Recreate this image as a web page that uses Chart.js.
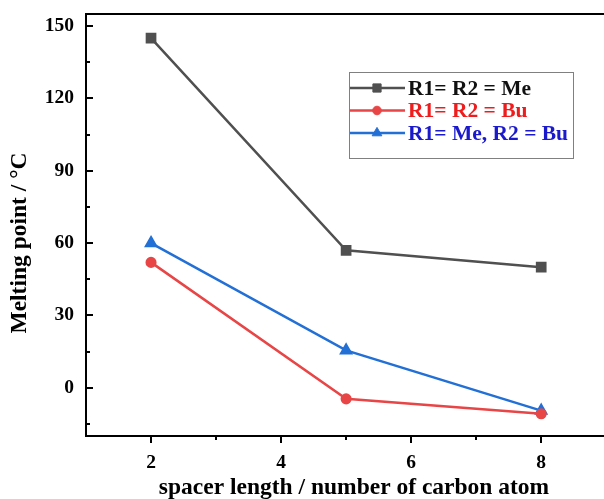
<!DOCTYPE html>
<html lang="en">
<head>
    <meta charset="UTF-8">
    <title>Melting point vs spacer length</title>
    <script src="https://cdn.jsdelivr.net/npm/chart.js"></script>
    <style>
        html, body {
            margin: 0;
            padding: 0;
            background: #fff;
            overflow: hidden;
        }
        .chart-box {
            position: relative;
            width: 604px;
            height: 499px;
        }
    </style>
</head>
<body>
    <div class="chart-box">
        <canvas id="mpChart" width="604" height="499"></canvas>
    </div>

    <script>
        // data
        const spacerLength = [2, 5, 8];
        const meMe = [145, 57, 50];
        const buBu = [52, -4.6, -10.8];
        const meBu = [60, 15.5, -9.5];

        const seriesLabels = ['R1= R2 = Me', 'R1= R2 = Bu', 'R1= Me, R2 = Bu'];
        const xTicks = [2, 4, 6, 8];
        const xMinor = [3, 5, 7];
        const yTicks = [0, 30, 60, 90, 120, 150];
        const yMinor = [-15, 15, 45, 75, 105, 135];
        const xTitle = 'spacer length / number of carbon atom';
        const yTitle = 'Melting point / °C';

        const serif = '"Liberation Serif", "Times New Roman", serif';
        const lineColors = ['#505050', '#e84646', '#2270d6'];
        const textColors = ['#111111', '#ee1c1c', '#1a1acc'];
        const markers = ['rect', 'circle', 'triangle'];
        const markerSize = [5.8, 4.3, 5.6];

        function toPoints(vals) {
            return spacerLength.map((x, i) => ({ x: x, y: vals[i] }));
        }

        // frame, tick marks, axis titles and the legend box
        const framePlugin = {
            id: 'frame',
            afterDraw(chart) {
                const ctx = chart.ctx;
                const a = chart.chartArea;
                const xs = chart.scales.x;
                const ys = chart.scales.y;
                ctx.save();
                ctx.strokeStyle = '#000';
                ctx.lineWidth = 2;
                // the right side of the frame lies past the picture edge
                ctx.beginPath();
                ctx.moveTo(a.right + 10, a.top);
                ctx.lineTo(a.left, a.top);
                ctx.lineTo(a.left, a.bottom);
                ctx.lineTo(a.right + 10, a.bottom);
                ctx.stroke();

                ctx.beginPath();
                yTicks.forEach(v => {
                    const y = Math.round(ys.getPixelForValue(v));
                    ctx.moveTo(a.left, y);
                    ctx.lineTo(a.left + 7, y);
                });
                yMinor.forEach(v => {
                    const y = Math.round(ys.getPixelForValue(v));
                    ctx.moveTo(a.left, y);
                    ctx.lineTo(a.left + 4, y);
                });
                xTicks.forEach(v => {
                    const x = Math.round(xs.getPixelForValue(v));
                    ctx.moveTo(x, a.bottom);
                    ctx.lineTo(x, a.bottom + 7);
                });
                xMinor.forEach(v => {
                    const x = Math.round(xs.getPixelForValue(v));
                    ctx.moveTo(x, a.bottom);
                    ctx.lineTo(x, a.bottom + 4);
                });
                ctx.stroke();

                // axis titles
                ctx.fillStyle = '#000';
                ctx.font = 'bold 23.5px ' + serif;
                ctx.textAlign = 'center';
                ctx.textBaseline = 'middle';
                ctx.fillText(xTitle, 354, 488);
                ctx.save();
                ctx.translate(20, 243);
                ctx.rotate(-Math.PI / 2);
                ctx.fillText(yTitle, 0, 0);
                ctx.restore();

                // legend
                const bx = 349, by = 72, bw = 224, bh = 86;
                ctx.lineWidth = 1;
                ctx.strokeStyle = '#808080';
                ctx.strokeRect(bx + 0.5, by + 0.5, bw, bh);
                ctx.font = 'bold 21.5px ' + serif;
                ctx.textBaseline = 'middle';
                ctx.textAlign = 'left';
                chart.data.datasets.forEach((ds, i) => {
                    const y = by + 16 + i * 22.5;
                    ctx.strokeStyle = ds.borderColor;
                    ctx.lineWidth = 2.5;
                    ctx.beginPath();
                    ctx.moveTo(bx + 1, y);
                    ctx.lineTo(bx + 56, y);
                    ctx.stroke();
                    ctx.fillStyle = ds.pointBackgroundColor;
                    ctx.strokeStyle = ds.pointBorderColor;
                    ctx.lineWidth = 1;
                    Chart.helpers.drawPoint(ctx, {
                        pointStyle: ds.pointStyle,
                        radius: ds.pointRadius,
                        borderWidth: 1
                    }, bx + 28, y);
                    ctx.fillStyle = textColors[i];
                    ctx.fillText(ds.label, bx + 59, y + 1);
                });
                ctx.restore();
            }
        };

        const datasets = [meMe, buBu, meBu].map((vals, i) => ({
            label: seriesLabels[i],
            data: toPoints(vals),
            borderColor: lineColors[i],
            backgroundColor: lineColors[i],
            pointBackgroundColor: lineColors[i],
            pointBorderColor: lineColors[i],
            pointStyle: markers[i],
            pointRadius: markerSize[i],
            borderWidth: 2.5,
            tension: 0
        }));

        new Chart(document.getElementById('mpChart'), {
            type: 'line',
            data: { datasets: datasets },
            options: {
                responsive: false,
                animation: false,
                layout: { padding: { top: 14, right: 0, left: 0, bottom: 0 } },
                plugins: {
                    legend: { display: false },
                    tooltip: { enabled: false }
                },
                scales: {
                    x: {
                        type: 'linear',
                        min: 1,
                        // chart area stops at 599px, so this keeps 2..8 where they sit in the figure
                        max: 8.838,
                        grid: { display: false, drawTicks: false },
                        border: { display: false },
                        afterBuildTicks: s => { s.ticks = xTicks.map(v => ({ value: v })); },
                        afterFit: s => {
                            s.height = 63;
                            s.paddingLeft = 0;
                            s.paddingRight = 0;
                        },
                        ticks: {
                            padding: 15,
                            color: '#000',
                            maxRotation: 0,
                            font: { family: serif, size: 19.5, weight: 'bold' }
                        }
                    },
                    y: {
                        min: -20,
                        max: 155,
                        grid: { display: false, drawTicks: false },
                        border: { display: false },
                        afterBuildTicks: s => { s.ticks = yTicks.map(v => ({ value: v })); },
                        afterFit: s => {
                            s.width = 86;
                            s.paddingTop = 0;
                            s.paddingBottom = 0;
                        },
                        ticks: {
                            padding: 12,
                            color: '#000',
                            font: { family: serif, size: 19.5, weight: 'bold' }
                        }
                    }
                }
            },
            plugins: [framePlugin]
        });
    </script>
</body>
</html>
